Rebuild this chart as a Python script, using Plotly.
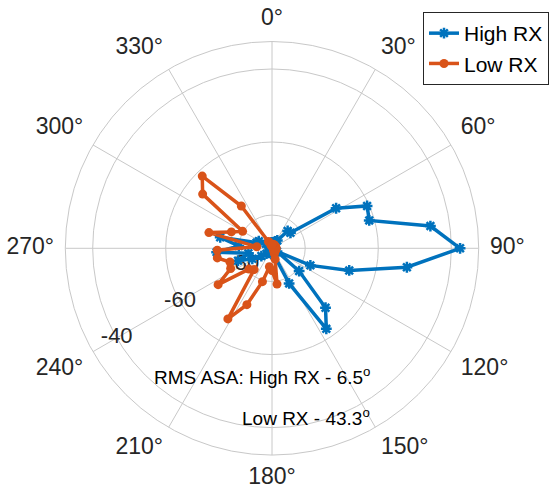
import plotly.graph_objects as go

# Azimuth of each sample (degrees, clockwise from north) and received power (dB)
theta_high = [2, 10, 18, 26, 34, 42, 50, 58, 66, 74, 82, 90, 98, 106, 114,
              122, 130, 138, 146, 154, 162, 170, 178, 186, 194, 202, 210, 218,
              226, 234, 242, 250, 258, 266, 274, 282, 290, 298, 306, 314, 322,
              330, 338, 346, 354, 2]
power_high = [-87.5, -88.0, -87.5, -87.0, -86.5, -82.7, -82.5, -68.4, -60.6,
              -61.4, -45.3, -37.6, -51.8, -67.1, -77.6, -87.5, -79.4, -67.2,
              -62.5, -78.4, -87.0, -88.0, -88.5, -88.0, -88.5, -88.0, -88.0,
              -87.5, -87.0, -85.5, -83.0, -79.2, -82.5, -73.9, -80.0, -74.6,
              -84.6, -85.0, -87.0, -87.5, -88.0, -88.0, -88.5, -88.0, -87.5,
              -87.5]

theta_low = [4, 12, 20, 28, 36, 44, 52, 60, 68, 76, 84, 92, 100, 108, 116,
             124, 132, 140, 148, 156, 164, 172, 180, 188, 196, 204, 212, 220,
             228, 236, 244, 252, 260, 268, 276, 284, 292, 300, 308, 316, 324,
             332, 340, 348, 356, 4]
power_low = [-88.0, -88.5, -88.0, -88.5, -88.0, -88.5, -88.0, -88.5, -88.0,
             -88.5, -88.0, -88.0, -88.5, -88.0, -88.5, -88.0, -88.0, -88.5,
             -88.0, -87.5, -86.0, -79.2, -83.0, -84.0, -79.6, -72.2, -66.3,
             -81.5, -80.6, -71.3, -76.5, -77.0, -73.9, -74.1, -84.9, -71.3,
             -77.1, -79.8, -65.0, -61.6, -74.8, -87.0, -88.0, -88.5, -88.0,
             -88.0]

angle_ticks = list(range(0, 360, 30))
angle_labels = [f"{a}°" for a in angle_ticks]
r_ticks = [-80, -60, -40]
r_labels = ["-80", "-60", "-40"]
r_label_angle = 240
r_range = [-89.1, -32.5]

rms_high = 6.5
rms_low = 43.3

blue = "#0072BD"
orange = "#D95319"
text_col = "#262626"
grid_col = "rgb(200,200,200)"
font = "Liberation Sans, Arial, Helvetica, sans-serif"

# geometry of the plot disc (pixels) and of the ring carrying the angle labels
W, H = 552, 493
cx, cy, rim = 272.0, 248.3, 206.7
outer = 240.0
label_frac = 218.0 / outer


def disc_domain(radius):
    return dict(x=[(cx - radius) / W, (cx + radius) / W],
                y=[(H - cy - radius) / H, (H - cy + radius) / H])


def label_anchor(a):
    """Text alignment for an angular label so it sits just outside the rim."""
    a = a % 360
    if a == 0:
        return "top center"
    if a == 180:
        return "bottom center"
    if a == 90:
        return "middle right"
    if a == 270:
        return "middle left"
    vert = "top" if (a < 90 or a > 270) else "bottom"
    horiz = "right" if a < 180 else "left"
    return f"{vert} {horiz}"


fig = go.Figure()

# radial tick labels sit on the 240° spoke, underneath the data
fig.add_trace(go.Scatterpolar(
    r=r_ticks, theta=[r_label_angle] * len(r_ticks), mode="text",
    text=r_labels, textfont=dict(size=22, color=text_col, family=font),
    textposition="middle center", showlegend=False, hoverinfo="skip"))

fig.add_trace(go.Scatterpolar(
    r=power_high, theta=theta_high, mode="lines+markers", name="High RX",
    line=dict(color=blue, width=3.5),
    marker=dict(symbol="asterisk-open", size=9, color=blue,
                line=dict(color=blue, width=2.5))))

fig.add_trace(go.Scatterpolar(
    r=power_low, theta=theta_low, mode="lines+markers", name="Low RX",
    line=dict(color=orange, width=3.5),
    marker=dict(symbol="circle", size=9, color=orange)))

# angle labels on a wider, invisible polar frame sharing the same centre
fig.add_trace(go.Scatterpolar(
    r=[label_frac] * len(angle_ticks), theta=angle_ticks, mode="text",
    text=angle_labels, textposition=[label_anchor(a) for a in angle_ticks],
    textfont=dict(size=23, color=text_col, family=font),
    subplot="polar2", showlegend=False, hoverinfo="skip"))

hidden_axis = dict(visible=False, showgrid=False, showline=False,
                   showticklabels=False, ticks="")

fig.update_layout(
    width=W, height=H,
    margin=dict(l=0, r=0, t=0, b=0),
    paper_bgcolor="white", plot_bgcolor="white",
    font=dict(family=font, color=text_col, size=22),
    polar=dict(
        domain=disc_domain(rim),
        bgcolor="white",
        angularaxis=dict(
            rotation=90, direction="clockwise",
            tickmode="array", tickvals=angle_ticks,
            showticklabels=False, ticks="",
            showgrid=True, gridcolor=grid_col, gridwidth=1,
            showline=True, linecolor=grid_col, linewidth=1),
        radialaxis=dict(
            range=r_range, tickmode="array", tickvals=r_ticks,
            showticklabels=False, ticks="",
            showgrid=True, gridcolor=grid_col, gridwidth=1,
            showline=False),
    ),
    polar2=dict(
        domain=disc_domain(outer),
        bgcolor="rgba(0,0,0,0)",
        angularaxis=dict(rotation=90, direction="clockwise", **hidden_axis),
        radialaxis=dict(range=[0, 1], **hidden_axis),
    ),
    legend=dict(
        x=423 / W, y=1 - 12 / H, xanchor="left", yanchor="top",
        bgcolor="white", bordercolor="#262626", borderwidth=1,
        font=dict(size=21, color="black", family=font),
        tracegroupgap=0, itemwidth=30),
    annotations=[
        dict(text=f"RMS ASA: High RX - {rms_high}<sup>o</sup>",
             x=372 / W, y=1 - 376 / H, xref="paper", yref="paper",
             xanchor="right", yanchor="middle", showarrow=False,
             font=dict(size=19, color="black", family=font)),
        dict(text=f"Low RX - {rms_low}<sup>o</sup>",
             x=372 / W, y=1 - 417 / H, xref="paper", yref="paper",
             xanchor="right", yanchor="middle", showarrow=False,
             font=dict(size=19, color="black", family=font)),
    ],
)

fig.write_html("out.html")
